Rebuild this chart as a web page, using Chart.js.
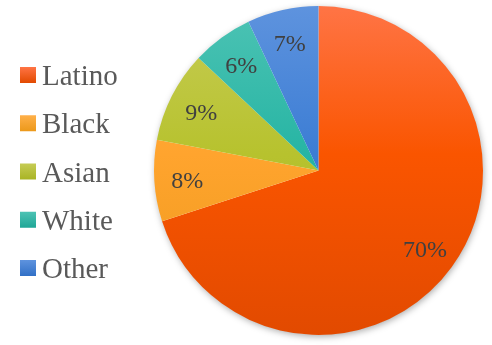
<!DOCTYPE html>
<html lang="en">
<head>
  <meta charset="UTF-8">
  <title>Population by group</title>
  <style>
    body { margin: 0; background: white; }
    .chart-container { width: 492px; height: 345px; }
  </style>
</head>
<body>
  <div class="chart-container">
    <canvas id="pie-chart" width="492" height="345"></canvas>
  </div>

  <script src="https://cdn.jsdelivr.net/npm/chart.js@4.4.0/dist/chart.umd.min.js"></script>
  <script>
    const LABELS = ['Latino', 'Black', 'Asian', 'White', 'Other'];
    const SHARES = [70, 8, 9, 6, 7];

    const COLORS_LIGHT = ['#FF7445', '#FFB04A', '#C6CC55', '#4DC3B4', '#5E93DE'];
    const COLORS_BASE = ['#FA5500', '#FFA42E', '#B7C22E', '#27B5A4', '#3C7DD4'];
    const COLORS_DARK = ['#E24A00', '#EC991A', '#A9B424', '#1FA696', '#3170C6'];

    const SERIF = 'Liberation Serif';

    function sliceColor(context) {
      const i = context.dataIndex;
      const area = context.chart.chartArea;
      if (!area) return COLORS_BASE[i];
      const g = context.chart.ctx.createLinearGradient(0, area.top, 0, area.bottom);
      g.addColorStop(0, COLORS_LIGHT[i]);
      g.addColorStop(0.45, COLORS_BASE[i]);
      g.addColorStop(1, COLORS_DARK[i]);
      return g;
    }

    // soft shadow under the whole pie
    const pieShadow = {
      id: 'pieShadow',
      beforeDatasetsDraw(chart) {
        const arc = chart.getDatasetMeta(0).data[0];
        if (!arc) return;
        const ctx = chart.ctx;
        ctx.save();
        ctx.shadowColor = 'rgba(0,0,0,0.35)';
        ctx.shadowBlur = 7;
        ctx.shadowOffsetX = 1;
        ctx.shadowOffsetY = 2;
        ctx.fillStyle = '#ffffff';
        ctx.beginPath();
        ctx.arc(arc.x, arc.y, arc.outerRadius - 0.5, 0, Math.PI * 2);
        ctx.fill();
        ctx.restore();
      }
    };

    // percentage labels inside the slices
    const sliceLabels = {
      id: 'sliceLabels',
      afterDatasetsDraw(chart) {
        const ctx = chart.ctx;
        const values = chart.data.datasets[0].data;
        ctx.save();
        ctx.font = '24px ' + SERIF;
        ctx.fillStyle = '#404040';
        ctx.textAlign = 'center';
        ctx.textBaseline = 'alphabetic';
        chart.getDatasetMeta(0).data.forEach((arc, i) => {
          const mid = (arc.startAngle + arc.endAngle) / 2;
          const r = arc.outerRadius * 0.8;
          const x = arc.x + Math.cos(mid) * r;
          const y = arc.y + Math.sin(mid) * r;
          ctx.fillText(values[i] + '%', x, y + 9);
        });
        ctx.restore();
      }
    };

    // legend on the left, Excel style
    const sideLegend = {
      id: 'sideLegend',
      afterDraw(chart) {
        const ctx = chart.ctx;
        ctx.save();
        ctx.font = '29px ' + SERIF;
        ctx.textAlign = 'left';
        ctx.textBaseline = 'alphabetic';
        chart.data.labels.forEach((label, i) => {
          const cy = 75 + i * 48.25;
          const g = ctx.createLinearGradient(0, cy - 8, 0, cy + 8);
          g.addColorStop(0, COLORS_LIGHT[i]);
          g.addColorStop(1, COLORS_DARK[i]);
          ctx.fillStyle = g;
          ctx.fillRect(20, cy - 8, 16, 16);
          ctx.fillStyle = '#595959';
          ctx.fillText(label, 42, cy + 10);
        });
        ctx.restore();
      }
    };

    new Chart(document.getElementById('pie-chart'), {
      type: 'pie',
      data: {
        labels: LABELS,
        datasets: [
          {
            data: SHARES,
            backgroundColor: sliceColor,
            borderWidth: 0
          }
        ]
      },
      plugins: [pieShadow, sliceLabels, sideLegend],
      options: {
        responsive: false,
        animation: false,
        layout: {
          padding: { left: 154, right: 9, top: 6, bottom: 10 }
        },
        plugins: {
          legend: { display: false },
          tooltip: { enabled: false }
        }
      }
    });
  </script>
</body>
</html>
